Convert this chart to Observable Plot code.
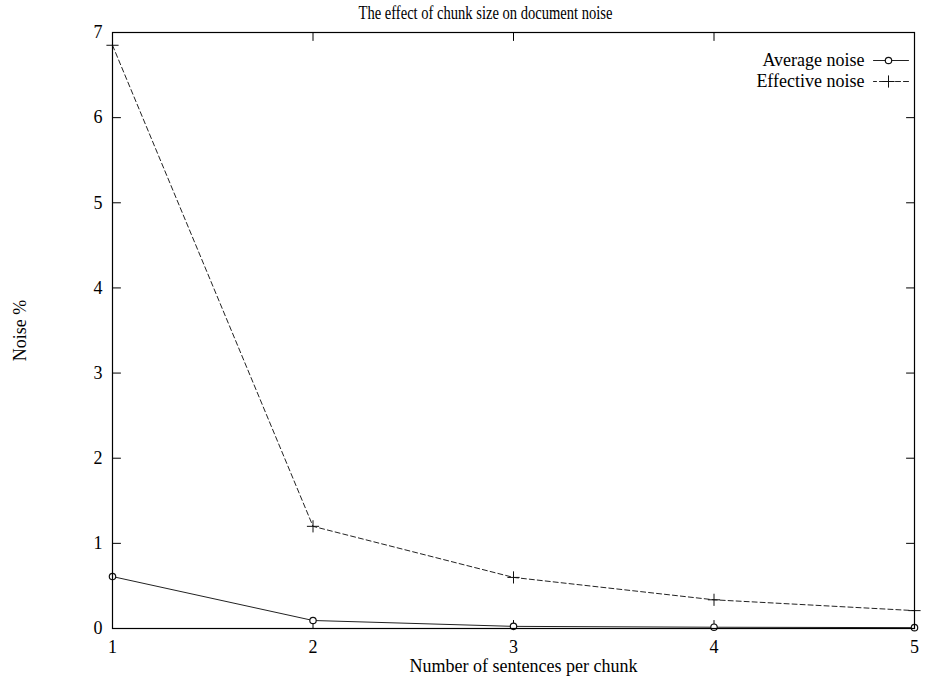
<!DOCTYPE html>
<html>
<head>
<meta charset="utf-8">
<script src="https://cdn.jsdelivr.net/npm/d3@7"></script>
<script src="https://cdn.jsdelivr.net/npm/@observablehq/plot@0.6"></script>
<style>
  html, body { margin: 0; padding: 0; background: #fff; }
  #chart svg { display: block; }
</style>
</head>
<body>
<div id="chart"></div>
<script>
const chunkSizes = [1, 2, 3, 4, 5];
const averageNoise = [0.61, 0.094, 0.025, 0.015, 0.01];
const effectiveNoise = [6.85, 1.2, 0.6, 0.337, 0.21];
const xTicks = [1, 2, 3, 4, 5];
const yTicks = [0, 1, 2, 3, 4, 5, 6, 7];
const seriesNames = ["Average noise", "Effective noise"];
const titleText = "The effect of chunk size on document noise";
const xLabel = "Number of sentences per chunk";
const yLabel = "Noise %";

const avgData = chunkSizes.map((x, i) => ({x, y: averageNoise[i]}));
const effData = chunkSizes.map((x, i) => ({x, y: effectiveNoise[i]}));

const lineShape = {draw(context, l) { context.moveTo(0, 0); context.lineTo(0, -l); }};
const font = "'Liberation Serif', 'DejaVu Serif', serif";
const ink = "#000";
const fs = 18;
const label = {fontSize: fs, fill: ink, lineAnchor: "middle"};

const chart = Plot.plot({
  width: 932,
  height: 677,
  marginLeft: 112,
  marginRight: 18,
  marginTop: 32,
  marginBottom: 49,
  style: {fontFamily: font, fontSize: fs + "px", color: ink, background: "#fff"},
  x: {domain: [1, 5], ticks: xTicks, label: null},
  y: {domain: [0, 7], ticks: yTicks, label: null},
  marks: [
    Plot.axisX({ticks: xTicks, tickFormat: "d", tickSize: 0, tickPadding: 12, label: null, fontSize: fs}),
    Plot.axisY({ticks: yTicks, tickFormat: "d", tickSize: 0, tickPadding: 10, label: null, fontSize: fs}),
    // inward ticks on all four sides
    Plot.vector(xTicks, {x: d => d, y: 0, length: 8, rotate: 0, anchor: "start", shape: lineShape, stroke: ink, strokeWidth: 1}),
    Plot.vector(xTicks, {x: d => d, y: 7, length: 8, rotate: 180, anchor: "start", shape: lineShape, stroke: ink, strokeWidth: 1}),
    Plot.vector(yTicks, {x: 1, y: d => d, length: 8, rotate: 90, anchor: "start", shape: lineShape, stroke: ink, strokeWidth: 1}),
    Plot.vector(yTicks, {x: 5, y: d => d, length: 8, rotate: -90, anchor: "start", shape: lineShape, stroke: ink, strokeWidth: 1}),
    // series
    Plot.line(effData, {x: "x", y: "y", stroke: "#222", strokeWidth: 1, strokeDasharray: "5,3"}),
    Plot.line(avgData, {x: "x", y: "y", stroke: "#222", strokeWidth: 1}),
    Plot.dot(effData, {x: "x", y: "y", symbol: "plus", r: 4, stroke: "#111", strokeWidth: 1}),
    Plot.dot(avgData, {x: "x", y: "y", symbol: "circle", r: 3.2, fill: "#fff", stroke: "#111", strokeWidth: 1.2}),
    Plot.frame({stroke: ink, strokeWidth: 1.2}),
    // legend
    Plot.text([seriesNames[0]], {...label, text: d => d, frameAnchor: "top-right", dx: -50, dy: 28, textAnchor: "end"}),
    Plot.text([seriesNames[1]], {...label, text: d => d, frameAnchor: "top-right", dx: -50, dy: 49, textAnchor: "end"}),
    Plot.vector([seriesNames[0]], {frameAnchor: "top-right", dx: -6, dy: 28, length: 35, rotate: -90, anchor: "start", shape: lineShape, stroke: "#222", strokeWidth: 1}),
    Plot.vector([seriesNames[1]], {frameAnchor: "top-right", dx: -6, dy: 49, length: 35, rotate: -90, anchor: "start", shape: lineShape, stroke: "#222", strokeWidth: 1, strokeDasharray: "5,3"}),
    Plot.dot([seriesNames[0]], {frameAnchor: "top-right", dx: -26, dy: 28, symbol: "circle", r: 3.2, fill: "#fff", stroke: "#111", strokeWidth: 1.2}),
    Plot.dot([seriesNames[1]], {frameAnchor: "top-right", dx: -26, dy: 49, symbol: "plus", r: 4, stroke: "#111", strokeWidth: 1}),
    // titles
    Plot.text([titleText], {...label, text: d => d, frameAnchor: "top", textAnchor: "middle", dx: -28, dy: -19, className: "chart-title"}),
    Plot.text([xLabel], {...label, text: d => d, frameAnchor: "bottom", textAnchor: "middle", dx: 10, dy: 38}),
    Plot.text([yLabel], {...label, text: d => d, frameAnchor: "left", textAnchor: "middle", dx: -92, rotate: -90})
  ]
});
// the title in the reference is horizontally condensed
d3.select(chart).selectAll(".chart-title text").attr("textLength", 254).attr("lengthAdjust", "spacingAndGlyphs");
document.getElementById("chart").appendChild(chart);
</script>
</body>
</html>
